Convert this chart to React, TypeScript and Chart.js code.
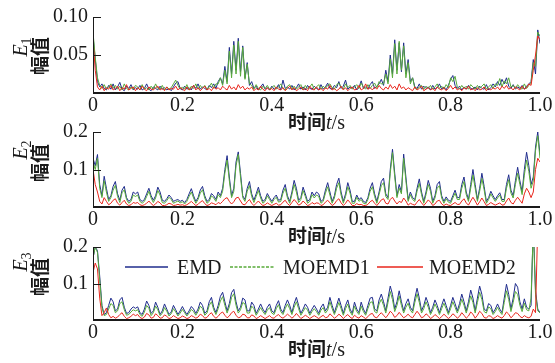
import { useEffect, useRef } from 'react';
import { Chart, registerables } from 'chart.js';
Chart.register(...registerables);

// ---------- data (sample step 0.005 s, 201 samples) ----------
const STEP = 0.005;
const X_TICKS = [0, 0.2, 0.4, 0.6, 0.8, 1.0];
const SERIES_NAMES = ['EMD', 'MOEMD1', 'MOEMD2'];
const COLORS = ['#1f2c8c', '#58aa3a', '#e8261c'];

const E1_EMD = [
  0.075, 0.045, 0.015, 0.008, 0.012, 0.006, 0.004, 0.01, 0.005, 0.012,
  0.004, 0.008, 0.014, 0.005, 0.003, 0.009, 0.006, 0.011, 0.004, 0.007,
  0.005, 0.01, 0.004, 0.006, 0.012, 0.005, 0.003, 0.008, 0.006, 0.004,
  0.009, 0.005, 0.007, 0.004, 0.006, 0.003, 0.008, 0.013, 0.015, 0.006,
  0.004, 0.009, 0.005, 0.007, 0.004, 0.01, 0.006, 0.012, 0.005, 0.008,
  0.006, 0.004, 0.01, 0.007, 0.012, 0.006, 0.015, 0.02, 0.012, 0.035,
  0.015, 0.06, 0.025, 0.068, 0.03, 0.072, 0.028, 0.062, 0.02, 0.04,
  0.01, 0.015, 0.006, 0.009, 0.004, 0.008, 0.012, 0.005, 0.007, 0.004,
  0.009, 0.005, 0.006, 0.011, 0.004, 0.017, 0.006, 0.008, 0.005, 0.01,
  0.004, 0.007, 0.012, 0.005, 0.008, 0.004, 0.01, 0.006, 0.005, 0.009,
  0.006, 0.004, 0.011, 0.005, 0.008, 0.013, 0.006, 0.005, 0.01, 0.007,
  0.015, 0.006, 0.009, 0.017, 0.005, 0.008, 0.006, 0.01, 0.004, 0.007,
  0.016, 0.006, 0.008, 0.005, 0.011, 0.015, 0.006, 0.009, 0.012, 0.018,
  0.01, 0.03, 0.015, 0.05, 0.025, 0.07, 0.03, 0.066, 0.028, 0.066,
  0.025, 0.044, 0.015, 0.02, 0.008, 0.006, 0.012, 0.005, 0.009, 0.006,
  0.008, 0.004, 0.01, 0.005, 0.007, 0.012, 0.005, 0.008, 0.004, 0.01,
  0.018, 0.023, 0.01, 0.006, 0.009, 0.004, 0.008, 0.005, 0.01, 0.006,
  0.005, 0.008, 0.004, 0.009, 0.006, 0.005, 0.011, 0.004, 0.007, 0.012,
  0.008, 0.015, 0.01, 0.018, 0.012, 0.02, 0.009, 0.006, 0.011, 0.005,
  0.008, 0.006, 0.01, 0.005, 0.009, 0.012, 0.015, 0.044, 0.025, 0.083,
  0.065,
];
const E1_MOEMD1 = [
  0.08, 0.047, 0.02, 0.01, 0.006, 0.011, 0.005, 0.008, 0.012, 0.006,
  0.01, 0.005, 0.009, 0.004, 0.012, 0.006, 0.004, 0.008, 0.005, 0.01,
  0.008, 0.004, 0.011, 0.005, 0.007, 0.004, 0.009, 0.005, 0.012, 0.006,
  0.005, 0.01, 0.004, 0.008, 0.005, 0.007, 0.012, 0.017, 0.01, 0.005,
  0.008, 0.005, 0.011, 0.004, 0.009, 0.006, 0.012, 0.005, 0.01, 0.006,
  0.01, 0.005, 0.008, 0.013, 0.006, 0.012, 0.012, 0.02, 0.01, 0.03,
  0.012, 0.055, 0.02, 0.063, 0.025, 0.068, 0.022, 0.06, 0.018, 0.038,
  0.012, 0.01, 0.005, 0.011, 0.006, 0.004, 0.009, 0.006, 0.01, 0.005,
  0.007, 0.01, 0.005, 0.008, 0.012, 0.006, 0.004, 0.009, 0.011, 0.005,
  0.009, 0.005, 0.008, 0.011, 0.004, 0.01, 0.006, 0.008, 0.012, 0.005,
  0.008, 0.011, 0.005, 0.009, 0.006, 0.01, 0.012, 0.007, 0.005, 0.011,
  0.013, 0.008, 0.005, 0.012, 0.007, 0.01, 0.005, 0.008, 0.011, 0.006,
  0.013, 0.008, 0.005, 0.011, 0.006, 0.01, 0.013, 0.007, 0.015, 0.012,
  0.012, 0.025, 0.012, 0.045, 0.02, 0.065, 0.025, 0.068, 0.03, 0.062,
  0.02, 0.04, 0.012, 0.02, 0.006, 0.005, 0.008, 0.01, 0.005, 0.009,
  0.006, 0.01, 0.005, 0.008, 0.012, 0.006, 0.009, 0.005, 0.011, 0.007,
  0.02, 0.015, 0.022, 0.008, 0.005, 0.01, 0.006, 0.009, 0.005, 0.011,
  0.008, 0.005, 0.01, 0.006, 0.009, 0.012, 0.005, 0.008, 0.011, 0.006,
  0.012, 0.01, 0.019, 0.008, 0.016, 0.012, 0.02, 0.008, 0.01, 0.006,
  0.011, 0.007, 0.005, 0.012, 0.006, 0.01, 0.013, 0.04, 0.035, 0.08,
  0.075,
];
const E1_MOEMD2 = [
  0.07, 0.03, 0.008, 0.004, 0.009, 0.003, 0.007, 0.005, 0.01, 0.004,
  0.006, 0.009, 0.003, 0.007, 0.005, 0.011, 0.004, 0.006, 0.008, 0.003,
  0.007, 0.004, 0.009, 0.005, 0.003, 0.008, 0.005, 0.004, 0.007, 0.009,
  0.004, 0.006, 0.003, 0.008, 0.004, 0.006, 0.005, 0.009, 0.004, 0.007,
  0.005, 0.003, 0.008, 0.004, 0.006, 0.01, 0.004, 0.007, 0.003, 0.006,
  0.009, 0.004, 0.006, 0.003, 0.008, 0.005, 0.007, 0.004, 0.009, 0.006,
  0.004, 0.01, 0.005, 0.008, 0.004, 0.011, 0.006, 0.009, 0.004, 0.007,
  0.005, 0.008, 0.003, 0.006, 0.004, 0.009, 0.005, 0.003, 0.007, 0.004,
  0.006, 0.003, 0.008, 0.005, 0.004, 0.007, 0.003, 0.006, 0.009, 0.004,
  0.007, 0.003, 0.005, 0.008, 0.004, 0.006, 0.003, 0.009, 0.005, 0.004,
  0.008, 0.004, 0.006, 0.003, 0.007, 0.005, 0.01, 0.004, 0.006, 0.003,
  0.005, 0.009, 0.004, 0.007, 0.003, 0.006, 0.008, 0.004, 0.005, 0.01,
  0.004, 0.006, 0.012, 0.005, 0.007, 0.004, 0.008, 0.005, 0.01, 0.006,
  0.004, 0.008, 0.005, 0.011, 0.006, 0.009, 0.004, 0.012, 0.006, 0.008,
  0.004, 0.007, 0.005, 0.003, 0.008, 0.004, 0.006, 0.009, 0.003, 0.005,
  0.007, 0.004, 0.006, 0.003, 0.008, 0.005, 0.004, 0.007, 0.003, 0.006,
  0.01, 0.005, 0.008, 0.004, 0.006, 0.003, 0.007, 0.005, 0.009, 0.004,
  0.006, 0.003, 0.007, 0.004, 0.005, 0.008, 0.003, 0.006, 0.004, 0.007,
  0.005, 0.008, 0.004, 0.009, 0.006, 0.01, 0.005, 0.007, 0.004, 0.008,
  0.006, 0.004, 0.009, 0.005, 0.007, 0.012, 0.01, 0.03, 0.05, 0.075,
  0.07,
];

const E2_EMD = [
  0.13, 0.11, 0.14, 0.06, 0.03, 0.082, 0.05, 0.02, 0.03, 0.055,
  0.068, 0.035, 0.018, 0.045, 0.055, 0.025, 0.015, 0.02, 0.04, 0.035,
  0.04, 0.02, 0.015, 0.02, 0.035, 0.05, 0.03, 0.018, 0.03, 0.053,
  0.04, 0.018, 0.015, 0.022, 0.032, 0.025, 0.015, 0.018, 0.02, 0.015,
  0.018, 0.012, 0.02, 0.035, 0.049, 0.03, 0.015, 0.025, 0.045, 0.055,
  0.03, 0.015, 0.02, 0.036, 0.03, 0.02, 0.04, 0.03, 0.05, 0.1,
  0.137, 0.08, 0.03, 0.05, 0.12, 0.147, 0.09, 0.03, 0.02, 0.05,
  0.068, 0.035, 0.018, 0.035, 0.053, 0.03, 0.015, 0.02, 0.036, 0.025,
  0.015, 0.025, 0.032, 0.018, 0.02, 0.045, 0.06, 0.03, 0.015, 0.04,
  0.071, 0.05, 0.018, 0.025, 0.053, 0.035, 0.015, 0.02, 0.04, 0.03,
  0.04, 0.035, 0.015, 0.02, 0.045, 0.065, 0.04, 0.015, 0.03, 0.06,
  0.077, 0.04, 0.015, 0.035, 0.065, 0.045, 0.015, 0.015, 0.032, 0.02,
  0.025, 0.015, 0.012, 0.025, 0.05, 0.065, 0.035, 0.015, 0.04, 0.068,
  0.077, 0.035, 0.025, 0.1, 0.154, 0.09, 0.03, 0.06, 0.04, 0.141,
  0.08, 0.02, 0.04, 0.025, 0.02, 0.05, 0.075, 0.04, 0.015, 0.04,
  0.071, 0.05, 0.015, 0.03, 0.06, 0.068, 0.03, 0.015, 0.027, 0.018,
  0.015, 0.03, 0.045, 0.025, 0.025, 0.06, 0.08, 0.04, 0.02, 0.06,
  0.1, 0.06, 0.02, 0.05, 0.09, 0.055, 0.015, 0.025, 0.042, 0.03,
  0.02, 0.03, 0.038, 0.02, 0.02, 0.06, 0.086, 0.045, 0.03, 0.07,
  0.106, 0.07, 0.04, 0.1, 0.146, 0.11, 0.06, 0.08, 0.16, 0.2,
  0.14,
];
const E2_MOEMD1 = [
  0.12, 0.1, 0.13, 0.05, 0.025, 0.07, 0.04, 0.015, 0.025, 0.045,
  0.058, 0.028, 0.012, 0.038, 0.046, 0.02, 0.01, 0.015, 0.032, 0.028,
  0.032, 0.015, 0.01, 0.015, 0.028, 0.042, 0.024, 0.012, 0.024, 0.044,
  0.032, 0.012, 0.01, 0.017, 0.026, 0.02, 0.01, 0.013, 0.016, 0.011,
  0.014, 0.008, 0.015, 0.028, 0.04, 0.024, 0.01, 0.02, 0.037, 0.046,
  0.024, 0.01, 0.015, 0.03, 0.024, 0.015, 0.033, 0.025, 0.042, 0.09,
  0.125, 0.07, 0.025, 0.042, 0.11, 0.14, 0.08, 0.025, 0.015, 0.042,
  0.057, 0.028, 0.012, 0.028, 0.044, 0.024, 0.01, 0.015, 0.03, 0.02,
  0.01, 0.02, 0.026, 0.013, 0.015, 0.037, 0.05, 0.024, 0.01, 0.033,
  0.06, 0.04, 0.012, 0.02, 0.044, 0.028, 0.01, 0.015, 0.033, 0.024,
  0.032, 0.028, 0.01, 0.015, 0.037, 0.054, 0.032, 0.01, 0.024, 0.05,
  0.065, 0.032, 0.01, 0.028, 0.054, 0.037, 0.01, 0.01, 0.026, 0.015,
  0.02, 0.01, 0.008, 0.02, 0.042, 0.054, 0.028, 0.01, 0.033, 0.057,
  0.065, 0.028, 0.02, 0.09, 0.145, 0.08, 0.025, 0.05, 0.035, 0.13,
  0.07, 0.015, 0.033, 0.02, 0.015, 0.042, 0.063, 0.033, 0.01, 0.033,
  0.06, 0.042, 0.01, 0.024, 0.05, 0.057, 0.024, 0.01, 0.022, 0.013,
  0.01, 0.024, 0.037, 0.02, 0.02, 0.05, 0.068, 0.033, 0.015, 0.05,
  0.085, 0.05, 0.015, 0.042, 0.076, 0.046, 0.01, 0.02, 0.035, 0.024,
  0.015, 0.024, 0.032, 0.015, 0.015, 0.05, 0.073, 0.037, 0.024, 0.06,
  0.09, 0.06, 0.033, 0.085, 0.125, 0.095, 0.05, 0.07, 0.15, 0.19,
  0.13,
];
const E2_MOEMD2 = [
  0.1, 0.06, 0.04, 0.015, 0.008, 0.025, 0.015, 0.006, 0.01, 0.018,
  0.022, 0.01, 0.005, 0.012, 0.018, 0.008, 0.004, 0.006, 0.012, 0.01,
  0.012, 0.006, 0.004, 0.006, 0.01, 0.016, 0.009, 0.004, 0.008, 0.015,
  0.011, 0.004, 0.004, 0.006, 0.01, 0.008, 0.004, 0.005, 0.007, 0.005,
  0.006, 0.004, 0.006, 0.01, 0.015, 0.009, 0.004, 0.007, 0.013, 0.017,
  0.009, 0.004, 0.006, 0.011, 0.009, 0.006, 0.012, 0.009, 0.015, 0.022,
  0.025, 0.015, 0.008, 0.014, 0.024, 0.026, 0.016, 0.007, 0.006, 0.014,
  0.02, 0.01, 0.004, 0.01, 0.016, 0.009, 0.004, 0.006, 0.011, 0.007,
  0.004, 0.007, 0.01, 0.005, 0.006, 0.013, 0.018, 0.009, 0.004, 0.012,
  0.02, 0.013, 0.005, 0.008, 0.016, 0.01, 0.004, 0.006, 0.012, 0.008,
  0.011, 0.01, 0.004, 0.006, 0.013, 0.018, 0.011, 0.004, 0.008, 0.017,
  0.022, 0.011, 0.004, 0.01, 0.019, 0.012, 0.004, 0.004, 0.009, 0.006,
  0.007, 0.004, 0.004, 0.007, 0.014, 0.018, 0.01, 0.004, 0.011, 0.019,
  0.022, 0.01, 0.008, 0.02, 0.026, 0.016, 0.008, 0.015, 0.012, 0.024,
  0.016, 0.005, 0.01, 0.007, 0.005, 0.013, 0.02, 0.011, 0.004, 0.011,
  0.019, 0.013, 0.004, 0.008, 0.016, 0.018, 0.008, 0.004, 0.008, 0.005,
  0.004, 0.008, 0.012, 0.007, 0.007, 0.016, 0.022, 0.011, 0.005, 0.016,
  0.026, 0.016, 0.005, 0.014, 0.024, 0.014, 0.004, 0.007, 0.012, 0.008,
  0.005, 0.008, 0.011, 0.005, 0.006, 0.016, 0.024, 0.012, 0.008, 0.018,
  0.026, 0.018, 0.01, 0.035, 0.05, 0.04, 0.025, 0.04, 0.1, 0.13,
  0.12,
];

const E3_EMD = [
  0.17, 0.2, 0.19, 0.12, 0.04, 0.015, 0.02, 0.04, 0.06, 0.05,
  0.025, 0.03, 0.055, 0.062, 0.035, 0.018, 0.02, 0.03, 0.036, 0.032,
  0.036, 0.02, 0.015, 0.03, 0.052, 0.04, 0.018, 0.025, 0.049, 0.035,
  0.015, 0.025, 0.044, 0.03, 0.015, 0.022, 0.04, 0.028, 0.015, 0.025,
  0.037, 0.025, 0.015, 0.025, 0.037, 0.03, 0.018, 0.03, 0.049, 0.04,
  0.018, 0.025, 0.05, 0.062, 0.035, 0.02, 0.04, 0.065, 0.076, 0.05,
  0.025, 0.045, 0.075, 0.084, 0.05, 0.025, 0.035, 0.06, 0.055, 0.025,
  0.025, 0.049, 0.04, 0.018, 0.03, 0.044, 0.03, 0.02, 0.035, 0.044,
  0.025, 0.02, 0.04, 0.053, 0.03, 0.02, 0.04, 0.055, 0.04, 0.02,
  0.045, 0.062, 0.04, 0.018, 0.03, 0.044, 0.035, 0.018, 0.03, 0.04,
  0.03, 0.018, 0.035, 0.044, 0.025, 0.035, 0.062, 0.04, 0.02, 0.04,
  0.06, 0.04, 0.018, 0.04, 0.055, 0.03, 0.018, 0.049, 0.03, 0.02,
  0.049, 0.03, 0.018, 0.04, 0.06, 0.062, 0.03, 0.025, 0.055, 0.071,
  0.05, 0.025, 0.06, 0.093, 0.07, 0.03, 0.05, 0.08, 0.05, 0.025,
  0.045, 0.058, 0.035, 0.025, 0.06, 0.087, 0.06, 0.025, 0.04, 0.062,
  0.045, 0.02, 0.035, 0.055, 0.04, 0.02, 0.04, 0.058, 0.04, 0.02,
  0.04, 0.062, 0.045, 0.025, 0.045, 0.071, 0.05, 0.025, 0.05, 0.082,
  0.06, 0.025, 0.06, 0.093, 0.07, 0.03, 0.025, 0.045, 0.04, 0.02,
  0.03, 0.044, 0.03, 0.02, 0.06, 0.098, 0.07, 0.03, 0.06, 0.1,
  0.09, 0.05, 0.03, 0.058, 0.035, 0.03, 0.04, 0.26, 0.08, 0.03,
  0.02,
];
const E3_MOEMD1 = [
  0.17, 0.2, 0.185, 0.11, 0.035, 0.012, 0.015, 0.03, 0.045, 0.04,
  0.02, 0.025, 0.045, 0.05, 0.028, 0.013, 0.015, 0.022, 0.028, 0.025,
  0.028, 0.015, 0.01, 0.022, 0.04, 0.032, 0.012, 0.02, 0.038, 0.028,
  0.012, 0.018, 0.034, 0.024, 0.011, 0.017, 0.031, 0.022, 0.011, 0.019,
  0.029, 0.02, 0.011, 0.019, 0.029, 0.023, 0.013, 0.023, 0.038, 0.031,
  0.013, 0.019, 0.04, 0.05, 0.028, 0.015, 0.031, 0.052, 0.064, 0.04,
  0.019, 0.036, 0.062, 0.072, 0.04, 0.019, 0.028, 0.048, 0.044, 0.019,
  0.019, 0.038, 0.031, 0.013, 0.023, 0.034, 0.023, 0.015, 0.027, 0.034,
  0.019, 0.015, 0.031, 0.042, 0.023, 0.015, 0.031, 0.044, 0.031, 0.015,
  0.035, 0.05, 0.031, 0.013, 0.023, 0.034, 0.027, 0.013, 0.023, 0.031,
  0.023, 0.013, 0.027, 0.034, 0.019, 0.027, 0.05, 0.031, 0.015, 0.031,
  0.048, 0.031, 0.013, 0.031, 0.044, 0.023, 0.013, 0.038, 0.023, 0.015,
  0.038, 0.023, 0.013, 0.031, 0.048, 0.05, 0.023, 0.019, 0.044, 0.057,
  0.04, 0.019, 0.048, 0.078, 0.056, 0.023, 0.04, 0.066, 0.04, 0.019,
  0.035, 0.046, 0.027, 0.019, 0.048, 0.072, 0.048, 0.019, 0.031, 0.05,
  0.035, 0.015, 0.027, 0.044, 0.031, 0.015, 0.031, 0.046, 0.031, 0.015,
  0.031, 0.05, 0.035, 0.019, 0.035, 0.057, 0.04, 0.019, 0.04, 0.066,
  0.048, 0.019, 0.048, 0.076, 0.056, 0.023, 0.019, 0.036, 0.031, 0.015,
  0.023, 0.035, 0.023, 0.015, 0.048, 0.08, 0.056, 0.023, 0.048, 0.078,
  0.07, 0.04, 0.023, 0.046, 0.028, 0.025, 0.06, 0.25, 0.07, 0.025,
  0.02,
];
const E3_MOEMD2 = [
  0.13, 0.156, 0.14, 0.06, 0.012, 0.02, 0.033, 0.015, 0.006, 0.01,
  0.005, 0.008, 0.015, 0.02, 0.01, 0.004, 0.006, 0.01, 0.016, 0.012,
  0.015, 0.007, 0.004, 0.008, 0.018, 0.014, 0.005, 0.007, 0.017, 0.012,
  0.005, 0.006, 0.014, 0.01, 0.004, 0.006, 0.012, 0.008, 0.004, 0.006,
  0.011, 0.008, 0.004, 0.006, 0.012, 0.009, 0.005, 0.008, 0.016, 0.012,
  0.005, 0.007, 0.015, 0.02, 0.01, 0.005, 0.01, 0.018, 0.022, 0.013,
  0.006, 0.011, 0.02, 0.024, 0.013, 0.006, 0.008, 0.016, 0.014, 0.006,
  0.006, 0.014, 0.011, 0.004, 0.007, 0.012, 0.008, 0.004, 0.008, 0.012,
  0.006, 0.005, 0.011, 0.015, 0.008, 0.005, 0.01, 0.016, 0.011, 0.005,
  0.01, 0.018, 0.011, 0.004, 0.008, 0.013, 0.009, 0.004, 0.008, 0.012,
  0.008, 0.004, 0.009, 0.013, 0.006, 0.008, 0.017, 0.011, 0.005, 0.009,
  0.016, 0.011, 0.004, 0.01, 0.015, 0.008, 0.004, 0.013, 0.008, 0.005,
  0.012, 0.008, 0.004, 0.009, 0.016, 0.018, 0.008, 0.006, 0.014, 0.02,
  0.013, 0.006, 0.014, 0.024, 0.018, 0.007, 0.012, 0.021, 0.013, 0.006,
  0.01, 0.016, 0.009, 0.006, 0.015, 0.024, 0.016, 0.006, 0.009, 0.017,
  0.012, 0.004, 0.008, 0.015, 0.01, 0.004, 0.009, 0.016, 0.01, 0.004,
  0.009, 0.017, 0.012, 0.005, 0.01, 0.02, 0.013, 0.005, 0.011, 0.022,
  0.016, 0.005, 0.013, 0.024, 0.018, 0.007, 0.005, 0.012, 0.01, 0.004,
  0.007, 0.012, 0.008, 0.005, 0.012, 0.022, 0.016, 0.006, 0.012, 0.02,
  0.018, 0.01, 0.006, 0.012, 0.008, 0.006, 0.01, 0.03, 0.02, 0.26,
  0.22,
];

const E1_Y_TICKS = [0.05, 0.1];
const E23_Y_TICKS = [0.1, 0.2];

// ---------- layout ----------
const W = 555;
const PLOT_LEFT = 93;
const PAD_RIGHT = 15;
const SERIF = '"Liberation Serif", "Times New Roman", serif';
const CJK = '"Noto Sans CJK SC", "Noto Sans", sans-serif';
const INK = '#1a1a1a';

type Panel = {
  top: number; height: number; padTop: number; bottom: number;
  yMax: number; yTicks: number[]; decimals: number; sub: string;
  series: number[][]; legend: boolean; eY: number; zhY: number;
};

const PANELS: Panel[] = [
  { top: 0, height: 135, padTop: 15, bottom: 93, yMax: 0.1, yTicks: E1_Y_TICKS, decimals: 2, sub: '1',
    series: [E1_EMD, E1_MOEMD1, E1_MOEMD2], legend: false, eY: 47, zhY: 56 },
  { top: 115, height: 135, padTop: 16, bottom: 92, yMax: 0.2, yTicks: E23_Y_TICKS, decimals: 1, sub: '2',
    series: [E2_EMD, E2_MOEMD1, E2_MOEMD2], legend: false, eY: 35, zhY: 48 },
  { top: 230, height: 133, padTop: 15, bottom: 90, yMax: 0.2, yTicks: E23_Y_TICKS, decimals: 1, sub: '3',
    series: [E3_EMD, E3_MOEMD1, E3_MOEMD2], legend: true, eY: 32, zhY: 47 },
];

function drawXTitle(ctx: CanvasRenderingContext2D, cx: number, cy: number) {
  const parts = [
    { t: '时间', f: `bold 19px ${CJK}` },
    { t: 't', f: `italic 20px ${SERIF}` },
    { t: '/s', f: `20px ${SERIF}` },
  ];
  let total = 0;
  const ws = parts.map((p) => { ctx.font = p.f; const w = ctx.measureText(p.t).width; total += w; return w; });
  let x = cx - total / 2;
  ctx.textBaseline = 'alphabetic';
  ctx.textAlign = 'left';
  parts.forEach((p, i) => { ctx.font = p.f; ctx.fillText(p.t, x, cy + 7); x += ws[i]; });
}

function makePlugin(p: Panel) {
  return {
    id: 'decor' + p.sub,
    afterDraw(chart: any) {
      const ctx: CanvasRenderingContext2D = chart.ctx;
      const { left, right, top, bottom } = chart.chartArea;
      const ys = chart.scales.y;
      ctx.save();
      ctx.setLineDash([]);
      ctx.strokeStyle = INK;
      ctx.lineWidth = 1;
      ctx.beginPath();
      ctx.moveTo(left + 0.5, top);
      ctx.lineTo(left + 0.5, bottom);
      p.yTicks.forEach((v) => {
        const y = Math.round(ys.getPixelForValue(v)) + 0.5;
        ctx.moveTo(left, y);
        ctx.lineTo(left + 8, y);
      });
      ctx.stroke();
      ctx.lineWidth = 2;
      ctx.beginPath();
      ctx.moveTo(left, bottom);
      ctx.lineTo(right, bottom);
      ctx.stroke();

      ctx.fillStyle = INK;
      // y label: E_n
      ctx.save();
      ctx.translate(20, p.eY);
      ctx.rotate(-Math.PI / 2);
      ctx.font = `italic 20px ${SERIF}`;
      const ew = ctx.measureText('E').width;
      ctx.font = `14px ${SERIF}`;
      const sw = ctx.measureText(p.sub).width;
      const x0 = -(ew + sw) / 2;
      ctx.textBaseline = 'alphabetic';
      ctx.textAlign = 'left';
      ctx.font = `italic 20px ${SERIF}`;
      ctx.fillText('E', x0, 7);
      ctx.font = `14px ${SERIF}`;
      ctx.fillText(p.sub, x0 + ew, 11);
      ctx.restore();
      // y label: 幅值
      ctx.save();
      ctx.translate(40, p.zhY);
      ctx.rotate(-Math.PI / 2);
      ctx.font = `bold 19px ${CJK}`;
      ctx.textAlign = 'center';
      ctx.textBaseline = 'middle';
      ctx.fillText('幅值', 0, 0);
      ctx.restore();

      drawXTitle(ctx, (left + right) / 2, bottom + 29);

      if (p.legend) {
        const ly = Math.round(top + 20);
        const items = [
          { x0: 125, x1: 168, tx: 177 },
          { x0: 230, x1: 275, tx: 283 },
          { x0: 377, x1: 423, tx: 429 },
        ];
        items.forEach((it, i) => {
          ctx.save();
          ctx.strokeStyle = COLORS[i];
          ctx.lineWidth = 1.5;
          ctx.setLineDash(i === 1 ? [3, 1.5] : []);
          ctx.beginPath();
          ctx.moveTo(it.x0, ly);
          ctx.lineTo(it.x1, ly);
          ctx.stroke();
          ctx.restore();
          ctx.fillStyle = INK;
          ctx.font = `20px ${SERIF}`;
          ctx.textAlign = 'left';
          ctx.textBaseline = 'alphabetic';
          ctx.fillText(SERIES_NAMES[i], it.tx, ly + 7);
        });
      }
      ctx.restore();
    },
  };
}

function PanelChart({ p }: { p: Panel }) {
  const ref = useRef<HTMLCanvasElement | null>(null);
  useEffect(() => {
    if (!ref.current) return;
    const datasets = p.series.map((vals, i) => ({
      label: SERIES_NAMES[i],
      data: vals.map((v, k) => ({ x: k * STEP, y: v })),
      borderColor: COLORS[i],
      backgroundColor: COLORS[i],
      borderWidth: 1,
      pointRadius: 0,
      tension: 0,
      order: 3 - i,
    }));
    const chart = new Chart(ref.current, {
      type: 'line',
      data: { datasets },
      options: {
        animation: false,
        responsive: false,
        maintainAspectRatio: false,
        layout: { padding: { top: p.padTop, right: PAD_RIGHT, left: 0, bottom: 0 } },
        plugins: { legend: { display: false }, tooltip: { enabled: false } },
        scales: {
          x: {
            type: 'linear', min: 0, max: 1,
            afterBuildTicks: (s: any) => { s.ticks = X_TICKS.map((v) => ({ value: v })); },
            afterFit: (s: any) => { s.height = p.height - p.bottom; },
            grid: { display: false, drawTicks: false, tickLength: 0 }, border: { display: false },
            ticks: {
              padding: 1, maxRotation: 0, autoSkip: false, color: INK,
              font: { family: SERIF, size: 20 },
              callback: (v: any) => (Number(v) === 0 ? '0' : Number(v).toFixed(1)),
            },
          },
          y: {
            type: 'linear', min: 0, max: p.yMax,
            afterBuildTicks: (s: any) => { s.ticks = p.yTicks.map((v) => ({ value: v })); },
            afterFit: (s: any) => { s.width = PLOT_LEFT; },
            grid: { display: false, drawTicks: false, tickLength: 0 }, border: { display: false },
            ticks: {
              padding: 5, color: INK,
              font: { family: SERIF, size: 20 },
              callback: (v: any) => Number(v).toFixed(p.decimals),
            },
          },
        },
      },
      plugins: [makePlugin(p)],
    } as any);
    return () => chart.destroy();
  }, [p]);
  return (
    <canvas
      ref={ref}
      width={W}
      height={p.height}
      style={{ position: 'absolute', left: 0, top: p.top, width: W, height: p.height }}
    />
  );
}

export default function App() {
  return (
    <div style={{ position: 'fixed', left: 0, top: 0, width: W, height: 363, background: '#fff', overflow: 'hidden' }}>
      {PANELS.map((p) => <PanelChart key={p.sub} p={p} />)}
    </div>
  );
}
